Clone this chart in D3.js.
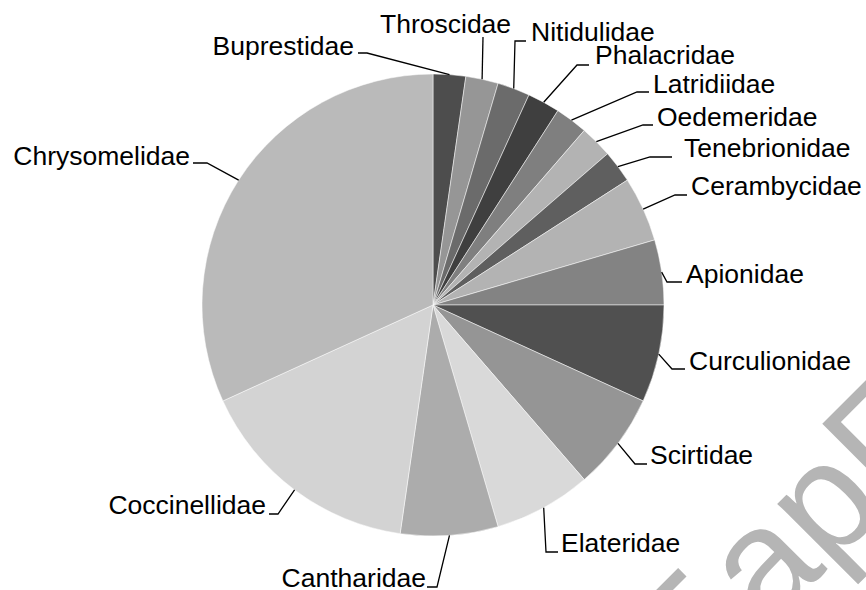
<!DOCTYPE html>
<html>
<head>
<meta charset="utf-8">
<script src="https://cdn.jsdelivr.net/npm/d3@7"></script>
<style>
  body { margin: 0; background: #fff; }
  text { font-family: "Liberation Sans", Arial, sans-serif; }
</style>
</head>
<body>
<script>
// beetle families, counts
const families = ['Buprestidae', 'Throscidae', 'Nitidulidae', 'Phalacridae', 'Latridiidae',
    'Oedemeridae', 'Tenebrionidae', 'Cerambycidae', 'Apionidae', 'Curculionidae',
    'Scirtidae', 'Elateridae', 'Cantharidae', 'Coccinellidae', 'Chrysomelidae'];
const counts = [1, 1, 1, 1, 1, 1, 1, 2, 2, 3, 3, 3, 3, 7, 14];

const grays = ['#4d4d4d', '#969696', '#6b6b6b', '#3f3f3f', '#7f7f7f',
    '#b3b3b3', '#5f5f5f', '#b3b3b3', '#838383', '#505050',
    '#959595', '#d9d9d9', '#acacac', '#d3d3d3', '#bababa'];

// label placement: text x / baseline, anchor, leader elbow (ex, ey) and tick end tx
const labelLayout = [
    {x: 354, y: 55, anchor: 'end', ex: 367, ey: 53, tx: 358},
    {x: 380, y: 33, anchor: 'start', ex: 483, ey: 37, tx: 483},
    {x: 531, y: 40.5, anchor: 'start', ex: 515, ey: 41, tx: 526},
    {x: 595, y: 64, anchor: 'start', ex: 577, ey: 65, tx: 589},
    {x: 653, y: 92.5, anchor: 'start', ex: 637, ey: 92, tx: 649},
    {x: 657, y: 125.5, anchor: 'start', ex: 643, ey: 125, tx: 653},
    {x: 684, y: 156.5, anchor: 'start', ex: 650, ey: 157, tx: 672},
    {x: 691, y: 195, anchor: 'start', ex: 675, ey: 195, tx: 687},
    {x: 686, y: 282.5, anchor: 'start', ex: 667, ey: 282, tx: 682},
    {x: 689, y: 370, anchor: 'start', ex: 672, ey: 369, tx: 685},
    {x: 650, y: 464, anchor: 'start', ex: 635, ey: 464, tx: 647},
    {x: 561, y: 552, anchor: 'start', ex: 546, ey: 552, tx: 558},
    {x: 426, y: 586.5, anchor: 'end', ex: 437, ey: 587, tx: 427},
    {x: 266, y: 514, anchor: 'end', ex: 278, ey: 514, tx: 269},
    {x: 190, y: 164.5, anchor: 'end', ex: 207, ey: 163, tx: 193}
];

const width = 866, height = 590;
const cx = 433, cy = 305, radius = 231;

const svg = d3.select(document.body)
    .append('svg')
    .attr('width', width)
    .attr('height', height);

const pie = d3.pie().sort(null).value(d => d);
const arcs = pie(counts);

const arc = d3.arc().innerRadius(0).outerRadius(radius);
const edge = d3.arc().innerRadius(radius).outerRadius(radius);

const g = svg.append('g').attr('transform', `translate(${cx},${cy})`);

g.selectAll('path.slice')
    .data(arcs)
    .enter()
    .append('path')
    .attr('class', 'slice')
    .attr('d', arc)
    .attr('fill', (d, i) => grays[i])
    .attr('stroke', '#ffffff')
    .attr('stroke-width', 0.5);

// leader lines
const line = d3.line();
svg.append('g')
    .selectAll('path')
    .data(arcs)
    .enter()
    .append('path')
    .attr('d', (d, i) => {
        const p = edge.centroid(d);
        const L = labelLayout[i];
        return line([[cx + p[0], cy + p[1]], [L.ex, L.ey], [L.tx, L.ey]]);
    })
    .attr('fill', 'none')
    .attr('stroke', '#000')
    .attr('stroke-width', 1.3);

svg.append('g')
    .selectAll('text')
    .data(families)
    .enter()
    .append('text')
    .attr('x', (d, i) => labelLayout[i].x)
    .attr('y', (d, i) => labelLayout[i].y)
    .attr('text-anchor', (d, i) => labelLayout[i].anchor)
    .attr('font-size', '26.5px')
    .attr('fill', '#000')
    .text(d => d);

// watermark
svg.append('text')
    .attr('transform', 'translate(695,702) rotate(-45)')
    .attr('font-size', '155px')
    .attr('fill', '#b5b5b5')
    .text('БарГУ');
</script>
</body>
</html>
